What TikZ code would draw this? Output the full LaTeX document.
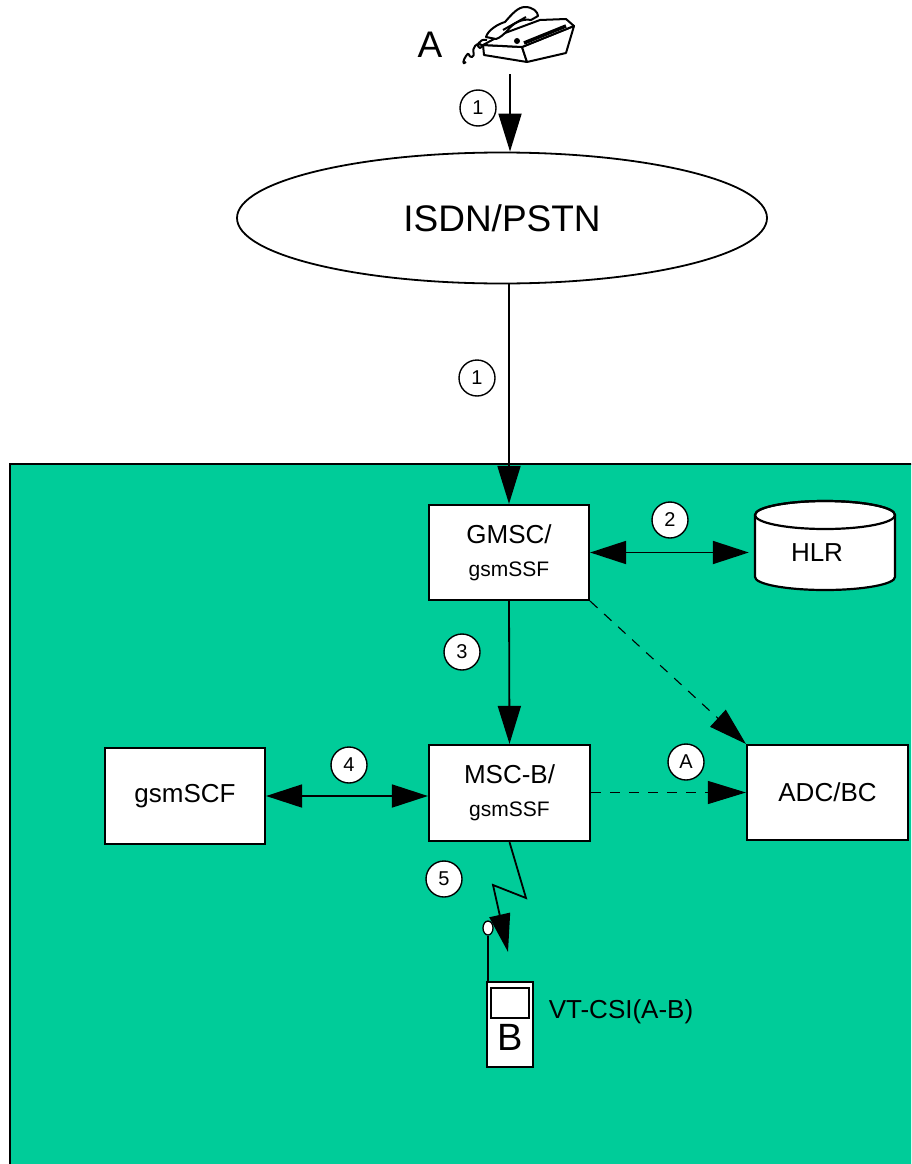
\documentclass[tikz,border=0pt]{standalone}
\usepackage{fontspec}
\setmainfont{Liberation Sans}
\usetikzlibrary{arrows.meta,shapes.geometric,calc}
\definecolor{gsmgreen}{RGB}{0,204,153}
\begin{document}
\begin{tikzpicture}[x=1pt,y=-1pt,
  box/.style={draw, line width=2.2pt, fill=white, inner sep=0pt, align=center},
  num/.style={circle, draw, line width=1.4pt, fill=white, minimum size=36pt, inner sep=0pt, font=\fontsize{20}{20}\selectfont},
  conn/.style={line width=1.8pt, -{Triangle[length=38pt,width=23pt]}},
  biconn/.style={line width=1.8pt, {Triangle[length=36pt,width=23pt]}-{Triangle[length=36pt,width=23pt]}},
  dconn/.style={line width=1.1pt, dash pattern=on 10pt off 9pt, -{Triangle[length=38pt,width=23pt]}},
  lbl/.style={font=\fontsize{26}{26}\selectfont},
  twoline/.style={font=\fontsize{21}{33}\selectfont},
]
\useasboundingbox (0,0) rectangle (911,1164);
\clip (0,0) rectangle (911,1164);
\fill[white] (0,0) rectangle (911,1164);

% green domain
\draw[fill=gsmgreen, line width=2.5pt] (10,464) rectangle (940,1200);

% telephone A
\begin{scope}[line width=2pt, line join=round]
 \draw (487,40) .. controls (478,38) and (476,48) .. (480,48) .. controls (484,48) and (481,40) .. (475,46)
       .. controls (471,50) and (476,56) .. (472,57) .. controls (468,58) and (470,50) .. (466,56)
       .. controls (463,60) and (462,66) .. (466,62);
 \draw[fill=white] (483,45) -- (522,47) -- (527,62) -- (484,55) -- cycle;
 \draw[fill=white] (522,47) -- (574,26) -- (566,53) -- (527,62) -- cycle;
 \draw[fill=white] (483,45) -- (522,47) -- (574,26) -- (566,19) -- (540,20) -- (505,33) -- cycle;
 \draw[line width=3.5pt] (524,43) -- (566,26);
 \fill (517,41) circle (3);
 \draw[fill=white] (486,37) .. controls (488,30) and (498,24) .. (505,22) .. controls (512,14) and (518,7) .. (525,7)
       .. controls (533,7) and (538,12) .. (538,16) -- (531,20) .. controls (522,18) and (512,24) .. (508,30)
       .. controls (504,34) and (500,38) .. (496,39) -- cycle;
 \draw (503,30) -- (526,17);
\end{scope}
\node[font=\fontsize{37}{37}\selectfont] (labA) at (430,45) {A};
\coordinate (phA) at (510,74);

% ISDN/PSTN
\node[draw, ellipse, line width=1.8pt, fill=white, minimum width=530pt, minimum height=131pt, inner sep=0pt,
      font=\fontsize{37}{37}\selectfont] (isdn) at (502,218) {ISDN/PSTN};

% boxes
\node[box, twoline, minimum width=160pt, minimum height=95pt] (gmsc) at (509,552.5)
   {{\fontsize{26}{33}\selectfont GMSC/}\\gsmSSF};
\node[box, twoline, minimum width=161pt, minimum height=96pt] (mscb) at (509.5,793)
   {{\fontsize{26}{33}\selectfont MSC-B/}\\gsmSSF};
\node[box, lbl, minimum width=160pt, minimum height=96pt] (scf) at (185,796) {gsmSCF};
\node[box, lbl, minimum width=161pt, minimum height=95pt] (adc) at (827.5,792.5) {ADC/BC};

% HLR cylinder
\node[minimum width=140pt, minimum height=90pt, inner sep=0pt] (hlr) at (825,545) {};
\draw[line width=2.2pt, fill=white] (755,515) -- (755,577) arc[start angle=180, end angle=0, x radius=70, y radius=13]
      -- (895,515) arc[start angle=0, end angle=-180, x radius=70, y radius=14] -- cycle;
\draw[line width=2.2pt] (825,515) ellipse[x radius=70, y radius=14];
\node[lbl] (hlrtext) at (817,553) {HLR};
\coordinate (hlrin) at ([xshift=-6pt]hlr.west);

% connectors
\draw[conn] (phA) -- (phA |- isdn.north);
\draw[conn] (gmsc.north |- isdn.south) -- (gmsc.north);
\draw[biconn] (gmsc.east) -- (gmsc.east -| hlrin);
\draw[conn] (gmsc.south) -- (mscb.north);
\draw[dconn] (gmsc.south east) -- (adc.north west);
\draw[biconn] (scf.east) -- (scf.east -| mscb.west);
\draw[dconn] (mscb.east |- adc.west) -- (adc.west);

% radio link to B
\coordinate (z1) at (526,898);
\coordinate (z2) at (493,885);
\coordinate (mtip) at (508,952);
\draw[line width=1.8pt, line join=miter, -{Triangle[length=38pt,width=21pt]}] (mscb.south) -- (z1) -- (z2) -- (mtip);

% mobile B
\node[draw, fill=white, line width=1.6pt, minimum width=46pt, minimum height=85pt, inner sep=0pt] (mobB) at (510,1024.5) {};
\draw[line width=1.6pt, fill=white] (491,988) rectangle (529,1018);
\node[font=\fontsize{38}{38}\selectfont] (labB) at (510,1037) {B};
\node[draw, ellipse, fill=white, line width=1.3pt, minimum width=10pt, minimum height=14pt, inner sep=0pt] (ant) at (488,928) {};
\draw[line width=1.6pt] (ant.south) -- (ant.south |- mobB.north);
\node[font=\fontsize{26}{26}\selectfont] (vtcsi) at (621,1012) {VT-CSI(A-B)};

% step numbers
\node[num] (n1a) at (478,108) {1};
\node[num] (n1b) at (477,378) {1};
\node[num] (n2) at (670,520) {2};
\node[num] (n3) at (462,652) {3};
\node[num] (n4) at (349,765) {4};
\node[num] (n5) at (444,879) {5};
\node[num] (nA) at (686,762) {A};
\end{tikzpicture}
\end{document}
